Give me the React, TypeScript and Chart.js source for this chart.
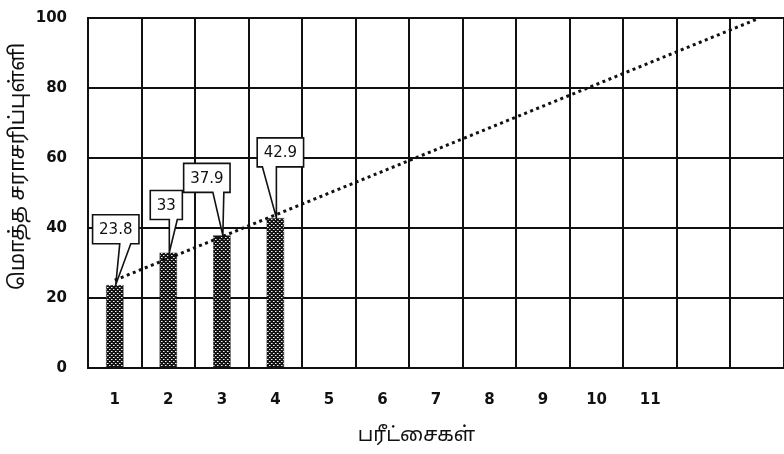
import React, { useEffect, useRef } from "react";
import { Chart, registerables } from "chart.js";

Chart.register(...registerables);

// ---- data ----
const categories = ["1", "2", "3", "4", "5", "6", "7", "8", "9", "10", "11", "", ""];
const averages: (number | null)[] = [23.8, 33, 37.9, 42.9, null, null, null, null, null, null, null, null, null];
const valueLabels = ["23.8", "33", "37.9", "42.9"];
const yTicks = [0, 20, 40, 60, 80, 100];
const xTitle = "பரீட்சைகள்";
const yTitle = "மொத்த சராசரிப்புள்ளி";

// linear trendline (least squares over the plotted bars), forecast across all categories
function linearTrend(values: (number | null)[], count: number): number[] {
  const pts = values
    .map((v, i) => (v == null ? null : { x: i + 1, y: v }))
    .filter((p): p is { x: number; y: number } => p !== null);
  const n = pts.length;
  const mx = pts.reduce((s, p) => s + p.x, 0) / n;
  const my = pts.reduce((s, p) => s + p.y, 0) / n;
  let sxy = 0;
  let sxx = 0;
  pts.forEach((p) => {
    sxy += (p.x - mx) * (p.y - my);
    sxx += (p.x - mx) * (p.x - mx);
  });
  const slope = sxy / sxx;
  const intercept = my - slope * mx;
  return Array.from({ length: count }, (_, i) => intercept + slope * (i + 1));
}
const trend = linearTrend(averages, categories.length);

// callout placement relative to the bar top (styling only)
const calloutStyle = [
  { dx: 1, dy: -41, b0: 4, b1: 15 },
  { dx: -2, dy: -33, b0: 3, b1: 11 },
  { dx: -15, dy: -43, b0: 6, b1: 17 },
  { dx: 5, dy: -51, b0: -18, b1: -4 },
];

const FONT = "'DejaVu Sans', sans-serif";
const TAMIL_FONT = "'Noto Sans Tamil', 'Lohit Tamil', 'Noto Sans', 'DejaVu Sans', sans-serif";

function makePattern(): CanvasPattern | string {
  const c = document.createElement("canvas");
  c.width = 4;
  c.height = 4;
  const g = c.getContext("2d");
  if (!g) return "#222";
  g.fillStyle = "#141414";
  g.fillRect(0, 0, 4, 4);
  g.fillStyle = "#8a8a8a";
  g.fillRect(2, 1, 1, 1);
  g.fillRect(0, 3, 1, 1);
  g.fillStyle = "#f0f0f0";
  g.fillRect(1, 1, 1, 1);
  g.fillRect(3, 3, 1, 1);
  const p = g.createPattern(c, "repeat");
  return p || "#222";
}

const calloutPlugin = {
  id: "callouts",
  afterDatasetsDraw(chart: any) {
    const ctx = chart.ctx as CanvasRenderingContext2D;
    const meta = chart.getDatasetMeta(0);
    ctx.save();
    ctx.font = `15px ${FONT}`;
    meta.data.forEach((el: any, i: number) => {
      const v = averages[i];
      if (v == null || valueLabels[i] == null) return;
      const st = calloutStyle[i];
      const text = valueLabels[i];
      const tw = ctx.measureText(text).width;
      const w = tw + 13;
      const h = 29;
      const tipX = el.x + 1;
      const tipY = el.y;
      const cx = el.x + st.dx;
      const bottom = el.y + st.dy;
      const top = bottom - h;
      const left = cx - w / 2;
      const right = cx + w / 2;
      ctx.beginPath();
      ctx.moveTo(left, top);
      ctx.lineTo(right, top);
      ctx.lineTo(right, bottom);
      ctx.lineTo(cx + st.b1, bottom);
      ctx.lineTo(tipX, tipY);
      ctx.lineTo(cx + st.b0, bottom);
      ctx.lineTo(left, bottom);
      ctx.closePath();
      ctx.fillStyle = "#ffffff";
      ctx.fill();
      ctx.lineWidth = 1.6;
      ctx.strokeStyle = "#111";
      ctx.lineJoin = "miter";
      ctx.stroke();
      ctx.fillStyle = "#111";
      ctx.textAlign = "center";
      ctx.textBaseline = "middle";
      ctx.fillText(text, cx, top + h / 2 + 1);
    });
    ctx.restore();
  },
  afterDraw(chart: any) {
    const ctx = chart.ctx as CanvasRenderingContext2D;
    const a = chart.chartArea;
    ctx.save();
    ctx.fillStyle = "#111";
    ctx.font = `20px ${TAMIL_FONT}`;
    ctx.textAlign = "center";
    ctx.textBaseline = "middle";
    ctx.fillText(xTitle, a.left + (a.right - a.left) * 0.472, 437);
    ctx.translate(20, a.top + (a.bottom - a.top) * 0.424);
    ctx.rotate(-Math.PI / 2);
    ctx.font = `21px ${TAMIL_FONT}`;
    ctx.fillText(yTitle, 0, 0);
    ctx.restore();
  },
};

export default function App() {
  const ref = useRef<HTMLCanvasElement | null>(null);
  useEffect(() => {
    if (!ref.current) return;
    const pattern = makePattern();
    const chart = new Chart(ref.current, {
      type: "bar",
      data: {
        labels: categories,
        datasets: [
          {
            type: "bar",
            data: averages as any,
            backgroundColor: pattern as any,
            borderColor: "#222",
            borderWidth: 0.6,
            barPercentage: 0.335,
            categoryPercentage: 1,
            order: 2,
          },
          {
            type: "line",
            data: trend,
            borderColor: "#111",
            borderWidth: 3,
            borderDash: [3, 3.5],
            borderCapStyle: "butt",
            pointRadius: 0,
            fill: false,
            tension: 0,
            order: 1,
          } as any,
        ],
      },
      options: {
        animation: false,
        responsive: false,
        devicePixelRatio: 1,
        layout: { autoPadding: false, padding: { top: 18, right: 0, left: 0, bottom: 0 } },
        plugins: {
          legend: { display: false },
          tooltip: { enabled: false },
          title: { display: false },
        },
        scales: {
          x: {
            grid: { color: "#111", lineWidth: 2, drawTicks: false, offset: true },
            border: { color: "#111", width: 2 },
            ticks: {
              color: "#111",
              font: { family: FONT, size: 15, weight: "bold" },
              padding: 23,
              maxRotation: 0,
              autoSkip: false,
            },
            afterFit: (s: any) => {
              s.height = 86;
              s.paddingLeft = 0;
              s.paddingRight = 0;
            },
          },
          y: {
            min: 0,
            max: 100,
            grid: { color: "#111", lineWidth: 2, drawTicks: false },
            border: { color: "#111", width: 2 },
            ticks: {
              color: "#111",
              font: { family: FONT, size: 15, weight: "bold" },
              padding: 21,
            },
            afterBuildTicks: (s: any) => {
              s.ticks = yTicks.map((v) => ({ value: v }));
            },
            afterFit: (s: any) => {
              s.width = 88;
              s.paddingTop = 0;
              s.paddingBottom = 0;
            },
          },
        },
      },
      plugins: [calloutPlugin],
    });
    return () => chart.destroy();
  }, []);
  return (
    <div style={{ position: "fixed", left: 0, top: 0, width: 784, height: 454, background: "#fff" }}>
      <canvas ref={ref} width={784} height={454} style={{ width: 784, height: 454, display: "block" }} />
    </div>
  );
}
